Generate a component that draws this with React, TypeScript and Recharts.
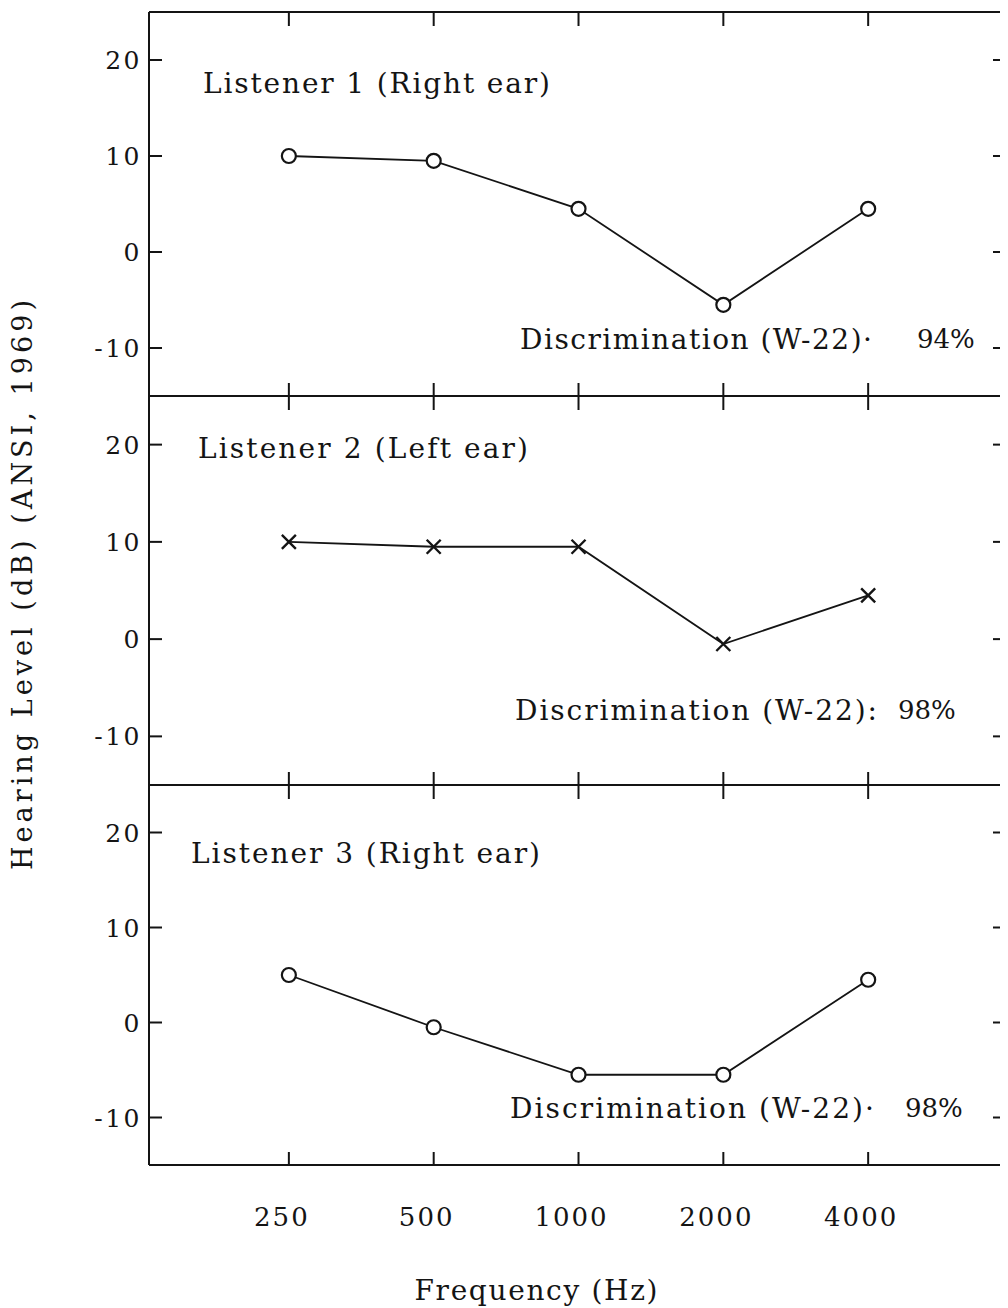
import React from 'react';
import { LineChart, Line, XAxis, YAxis } from 'recharts';

const frequencies = [250, 500, 1000, 2000, 4000];
const listener1 = [10, 9.5, 4.5, -5.5, 4.5];
const listener2 = [10, 9.5, 9.5, -0.5, 4.5];
const listener3 = [5, -0.5, -5.5, -5.5, 4.5];
const yTicks = [-10, 0, 10, 20];
const yDomain = [-15, 25];
const xDomain = [128, 7700];

const panelTitles = ['Listener 1 (Right ear)', 'Listener 2 (Left ear)', 'Listener 3 (Right ear)'];
const discriminationLabels = ['Discrimination (W-22)·', 'Discrimination (W-22):', 'Discrimination (W-22)·'];
const discriminationScores = ['94%', '98%', '98%'];

const FONT = '"DejaVu Serif", "Liberation Serif", serif';
const INK = '#141414';

const buildRows = (values: number[]) => frequencies.map((f, i) => ({ freq: f, level: values[i] }));

const LeftTick = (props: any) => {
  const { x, y, payload } = props;
  return (
    <g>
      <line x1={x} x2={x + 13} y1={y} y2={y} stroke={INK} strokeWidth={2} />
      <text x={x - 7} y={y} dy="0.36em" textAnchor="end" fontFamily={FONT} fontSize={25} fill={INK} letterSpacing={2.5}>
        {payload.value}
      </text>
    </g>
  );
};

const RightTick = (props: any) => {
  const { x, y } = props;
  return <line x1={x - 12} x2={x} y1={y} y2={y} stroke={INK} strokeWidth={2} />;
};

const TopTick = (props: any) => {
  const { x, y } = props;
  return <line x1={x} x2={x} y1={y} y2={y + 14} stroke={INK} strokeWidth={2} />;
};

const makeBottomTick = (withLabel: boolean) => (props: any) => {
  const { x, y, payload } = props;
  return (
    <g>
      <line x1={x} x2={x} y1={y - 13} y2={y} stroke={INK} strokeWidth={2} />
      {withLabel ? (
        <text x={x - 7} y={y + 52} dy="0.36em" textAnchor="middle" fontFamily={FONT} fontSize={26} fill={INK} letterSpacing={2}>
          {payload.value}
        </text>
      ) : null}
    </g>
  );
};

const CrossDot = (props: any) => {
  const { cx, cy, index } = props;
  if (cx == null || cy == null) return <g key={`c-${index}`} />;
  const s = 7;
  return (
    <path
      key={`c-${index}`}
      d={`M${cx - s},${cy - s}L${cx + s},${cy + s}M${cx + s},${cy - s}L${cx - s},${cy + s}`}
      stroke={INK}
      strokeWidth={2.4}
      fill="none"
    />
  );
};

type PanelProps = {
  values: number[];
  plotTop: number;
  plotHeight: number;
  marker: 'circle' | 'cross';
  last: boolean;
};

const Panel = ({ values, plotTop, plotHeight, marker, last }: PanelProps) => {
  const topAxisH = 20;
  const bottomAxisH = last ? 90 : 20;
  const height = topAxisH + plotHeight + bottomAxisH;
  return (
    <div style={{ position: 'absolute', left: 0, top: plotTop - topAxisH }}>
      <LineChart
        width={1000}
        height={height}
        data={buildRows(values)}
        margin={{ top: 0, right: 1, bottom: 0, left: 61 }}
        style={{ overflow: 'visible' }}
      >
        <XAxis
          xAxisId="top"
          orientation="top"
          dataKey="freq"
          type="number"
          scale="log"
          domain={xDomain}
          ticks={frequencies}
          interval={0}
          height={topAxisH}
          tickSize={0}
          tickMargin={0}
          tickLine={false}
          axisLine={{ stroke: INK, strokeWidth: 2 }}
          tick={<TopTick />}
          allowDataOverflow
        />
        <XAxis
          xAxisId="bottom"
          orientation="bottom"
          dataKey="freq"
          type="number"
          scale="log"
          domain={xDomain}
          ticks={frequencies}
          interval={0}
          height={bottomAxisH}
          tickSize={0}
          tickMargin={0}
          tickLine={false}
          axisLine={{ stroke: INK, strokeWidth: 2 }}
          tick={makeBottomTick(last)}
          allowDataOverflow
        />
        <YAxis
          yAxisId="left"
          orientation="left"
          type="number"
          domain={yDomain}
          ticks={yTicks}
          interval={0}
          width={80}
          tickSize={0}
          tickMargin={0}
          tickLine={false}
          axisLine={{ stroke: INK, strokeWidth: 2 }}
          tick={<LeftTick />}
          allowDataOverflow
        />
        <YAxis
          yAxisId="right"
          orientation="right"
          type="number"
          domain={yDomain}
          ticks={yTicks}
          interval={0}
          width={2}
          tickSize={0}
          tickMargin={0}
          tickLine={false}
          axisLine={{ stroke: INK, strokeWidth: 2 }}
          tick={<RightTick />}
          allowDataOverflow
        />
        <Line
          xAxisId="bottom"
          yAxisId="left"
          type="linear"
          dataKey="level"
          stroke={INK}
          strokeWidth={1.8}
          isAnimationActive={false}
          dot={marker === 'circle' ? { r: 7, fill: '#fff', stroke: INK, strokeWidth: 2.2 } : <CrossDot />}
          activeDot={false}
        />
      </LineChart>
    </div>
  );
};

// annotation placement (container coordinates)
const titlePos = [
  { x: 195, y: 75, len: 347 },
  { x: 190, y: 440, len: 330 },
  { x: 183, y: 845, len: 349 },
];
const discPos = [
  { x: 512, y: 331, len: 352, sx: 909 },
  { x: 507, y: 702, len: 362, sx: 890 },
  { x: 502, y: 1100, len: 364, sx: 897 },
];

export default function App() {
  const series = [listener1, listener2, listener3];
  const plotTops = [4, 388, 777];
  const plotHeights = [384, 389, 380];
  return (
    <div style={{ position: 'relative', width: 1000, height: 1300, background: '#fff' }}>
      {series.map((vals, i) => (
        <Panel
          key={i}
          values={vals}
          plotTop={plotTops[i]}
          plotHeight={plotHeights[i]}
          marker={i === 1 ? 'cross' : 'circle'}
          last={i === 2}
        />
      ))}
      <svg
        width={1000}
        height={1300}
        style={{ position: 'absolute', left: 0, top: 0, pointerEvents: 'none' }}
      >
        {panelTitles.map((t, i) => (
          <text
            key={`t${i}`}
            x={titlePos[i].x}
            y={titlePos[i].y}
            dy="0.36em"
            fontFamily={FONT}
            fontSize={28}
            fill={INK}
            textLength={titlePos[i].len}
            lengthAdjust="spacing"
          >
            {t}
          </text>
        ))}
        {discriminationLabels.map((t, i) => (
          <g key={`d${i}`}>
            <text
              x={discPos[i].x}
              y={discPos[i].y}
              dy="0.36em"
              fontFamily={FONT}
              fontSize={28}
              fill={INK}
              textLength={discPos[i].len}
              lengthAdjust="spacing"
            >
              {t}
            </text>
            <text
              x={discPos[i].sx}
              y={discPos[i].y}
              dy="0.36em"
              fontFamily={FONT}
              fontSize={26}
              fill={INK}
            >
              {discriminationScores[i]}
            </text>
          </g>
        ))}
        <text
          x={14}
          y={577}
          dy="0.36em"
          transform="rotate(-90 14 577)"
          textAnchor="middle"
          fontFamily={FONT}
          fontSize={27}
          fill={INK}
          textLength={570}
          lengthAdjust="spacing"
        >
          Hearing Level (dB) (ANSI, 1969)
        </text>
        <text
          x={528}
          y={1282}
          dy="0.36em"
          textAnchor="middle"
          fontFamily={FONT}
          fontSize={28}
          fill={INK}
          textLength={243}
          lengthAdjust="spacing"
        >
          Frequency (Hz)
        </text>
      </svg>
    </div>
  );
}
